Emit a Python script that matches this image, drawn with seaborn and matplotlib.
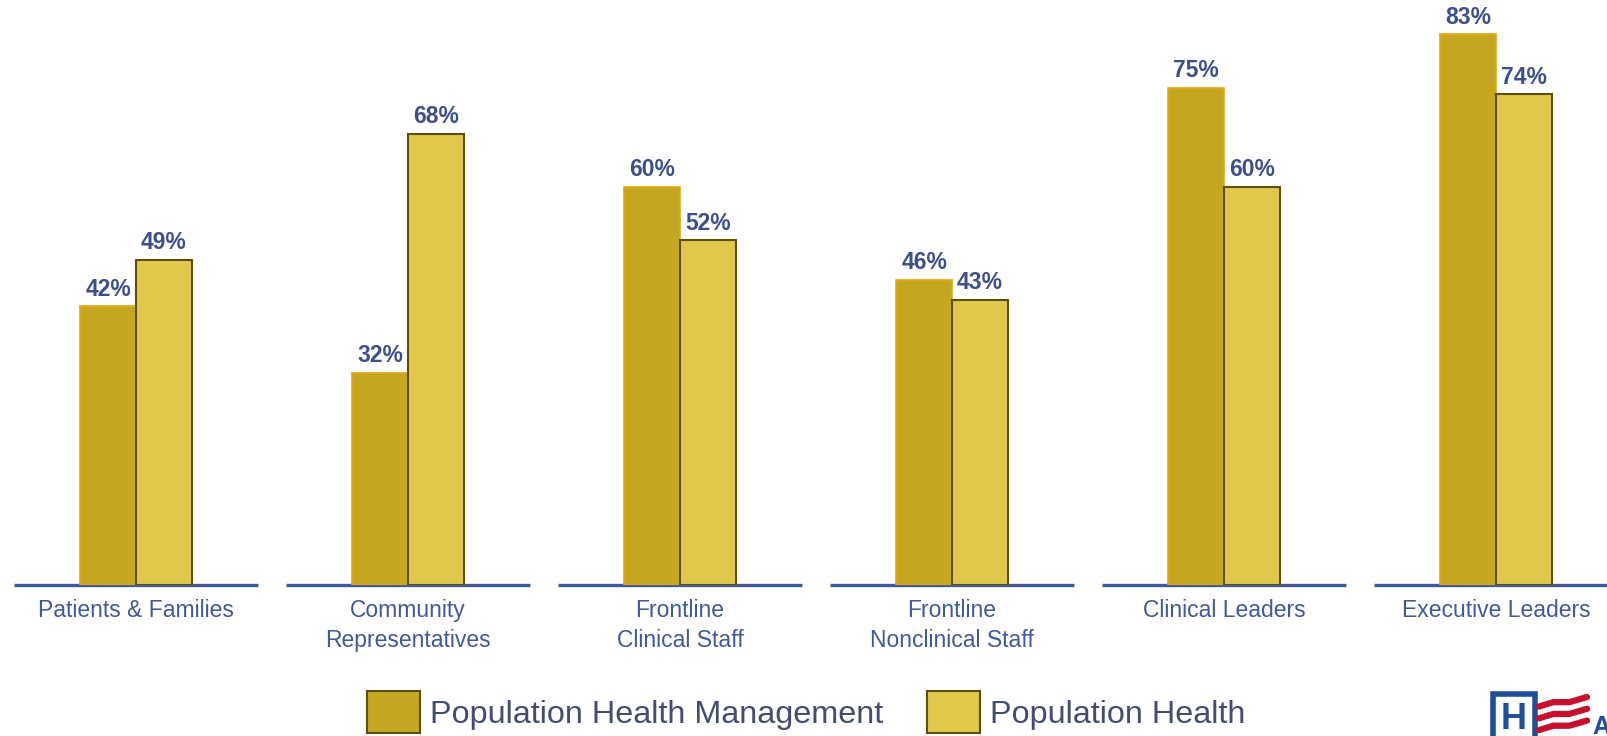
import matplotlib
matplotlib.use("Agg")
import matplotlib.pyplot as plt
from matplotlib.lines import Line2D
import pandas as pd
import seaborn as sns

# data
categories = ["Patients & Families", "Community\nRepresentatives", "Frontline\nClinical Staff",
              "Frontline\nNonclinical Staff", "Clinical Leaders", "Executive Leaders"]
series_names = ["Population Health Management", "Population Health"]
phm_values = [42, 32, 60, 46, 75, 83]
ph_values = [49, 68, 52, 43, 60, 74]

fill_colors = ["#C4A620", "#E2C84A"]
edge_colors = ["#E3A90C", "#5E4E14"]
text_blue = "#3B4F8A"
line_blue = "#3F5A9A"

df = pd.DataFrame({
    "category": categories * 2,
    "series": [series_names[0]] * len(categories) + [series_names[1]] * len(categories),
    "value": phm_values + ph_values,
})

sns.set_theme(style="white")
plt.rcParams["font.family"] = ["Liberation Sans", "DejaVu Sans"]

fig = plt.figure(figsize=(16.08, 7.36), dpi=100)
ax = fig.add_axes([0, 0.2052, 1, 0.7948])

sns.barplot(data=df, x="category", y="value", hue="series", hue_order=series_names,
            palette=fill_colors, saturation=1, width=0.41, gap=0, ax=ax, legend=False, zorder=3)

for i, cont in enumerate(ax.containers):
    for bar in cont:
        bar.set_edgecolor(edge_colors[i])
        bar.set_linewidth(1.2 if i == 0 else 1.5)
    ax.bar_label(cont, fmt="%d%%", padding=4, fontsize=16.5, fontweight="bold", color=text_blue)

# separate baseline segment under each group
xs = list(range(len(categories)))
ax.hlines([0] * len(xs), [x - 0.447 for x in xs], [x + 0.447 for x in xs],
          color=line_blue, lw=2.4, zorder=2, clip_on=False)

ax.set_xlim(-0.5, -0.5 + 1608 / 272)
ax.set_ylim(0, 88.2)
ax.set_xlabel("")
ax.set_ylabel("")
ax.set_yticks([])
ax.set_xticks(xs)
ax.set_xticklabels(categories, fontsize=16.5, color=line_blue, linespacing=1.42)
ax.tick_params(axis="x", length=0, pad=10)
sns.despine(ax=ax, left=True, bottom=True)

handles = [plt.Rectangle((0, 0), 1, 1, facecolor=fill_colors[i], edgecolor="#5E4E14", lw=1.5)
           for i in range(2)]
fig.legend(handles, series_names, loc="center left", bbox_to_anchor=(0.228, 0.0325),
           ncol=2, frameon=False, fontsize=23.3, labelcolor="#444C72",
           handlelength=1.65, handleheight=1.65, handletextpad=0.3, columnspacing=1.35,
           borderaxespad=0, borderpad=0)

# logo fragment at the bottom right
fig.add_artist(plt.Rectangle((0.9285, -0.01), 0.0261, 0.067, transform=fig.transFigure,
                             facecolor="white", edgecolor="#1F4E9A", lw=4))
fig.text(0.9415, 0.022, "H", fontsize=26, fontweight="bold", color="#1F4E9A",
         ha="center", va="center")
for k in range(3):
    y0 = 0.008 + k * 0.016
    fig.add_artist(Line2D([0.957, 0.966, 0.976, 0.987], [y0, y0 + 0.006, y0 + 0.006, y0 + 0.013],
                          transform=fig.transFigure, color="#C8102E", lw=4.5))
fig.text(0.996, 0.012, "A", fontsize=18, fontweight="bold", color="#1F4E9A", ha="center", va="center")

fig.savefig("out.png", dpi=100)
